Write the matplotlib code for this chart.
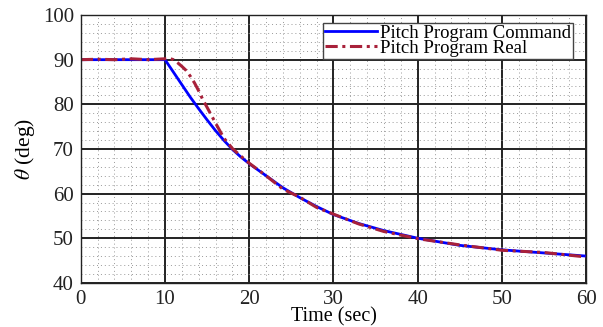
import numpy as np
import matplotlib.pyplot as plt
from matplotlib.ticker import MultipleLocator

plt.rcParams['font.family'] = ['Liberation Serif', 'DejaVu Serif']
plt.rcParams['mathtext.fontset'] = 'stix'

# pitch program: commanded angle
t_cmd = [0, 10, 11, 12, 13, 14, 15, 16, 17, 18, 19, 20, 22, 24, 25, 26, 28,
         30, 33, 36, 40, 45, 50, 55, 60]
theta_cmd = [90, 90, 87.2, 84.4, 81.6, 79.0, 76.5, 74.1, 71.9, 69.9, 68.2,
             66.7, 64.0, 61.3, 60.2, 59.1, 57.1, 55.3, 53.3, 51.7, 50.0,
             48.4, 47.4, 46.7, 46.0]

# pitch program: achieved angle
t_real = [0, 2, 4, 6, 8, 10, 10.5, 11, 11.5, 12, 12.5, 13, 13.5, 14, 14.5,
          15, 16, 17, 18, 19, 20, 22, 24, 26, 28, 30, 33, 36, 40, 45, 50,
          55, 60]
theta_real = [90.0, 90.1, 90.0, 90.2, 90.0, 90.2, 90.3, 90.0, 89.3, 88.5,
              87.6, 86.3, 84.8, 83.0, 81.0, 79.3, 75.8, 72.4, 70.1, 68.4,
              66.8, 64.0, 61.0, 59.2, 56.9, 55.4, 53.2, 51.5, 49.9, 48.5,
              47.3, 46.8, 45.8]

fig = plt.figure(figsize=(6.03, 3.27), dpi=100)
ax = fig.add_axes([0.134, 0.135, 0.838, 0.819])

ax.plot(t_cmd, theta_cmd, color='#0000FF', lw=2.0, label='Pitch Program Command')
ax.plot(t_real, theta_real, color='#A8213A', lw=2.2,
        linestyle=(0, (4, 1.5, 1, 1.5)), label='Pitch Program Real')

ax.set_xlim(0, 60)
ax.set_ylim(40, 100)
ax.xaxis.set_major_locator(MultipleLocator(10))
ax.yaxis.set_major_locator(MultipleLocator(10))
ax.xaxis.set_minor_locator(MultipleLocator(2))
ax.yaxis.set_minor_locator(MultipleLocator(2))

ax.grid(which='major', color='#222222', lw=1.4, ls='-')
ax.grid(which='minor', color='#999999', lw=0.7, ls=(0, (1, 3)))
ax.set_axisbelow(True)
ax.tick_params(which='both', length=0, labelsize=15, pad=5, colors='#222222')
for s in ax.spines.values():
    s.set_color('#222222')
    s.set_linewidth(1.0)

ax.set_xlabel('Time (sec)', fontsize=14.5, labelpad=-1)
ax.set_ylabel(r'$\theta$ (deg)', fontsize=15.5, labelpad=4)

leg = ax.legend(loc='upper right', bbox_to_anchor=(0.974, 0.972),
                fontsize=13.5, frameon=True, fancybox=False, edgecolor='#444444',
                framealpha=1, handlelength=2.8, handletextpad=0.15,
                borderpad=0.1, labelspacing=-0.1, borderaxespad=0)
leg.get_frame().set_linewidth(1.0)

fig.savefig('out.png', dpi=100)
